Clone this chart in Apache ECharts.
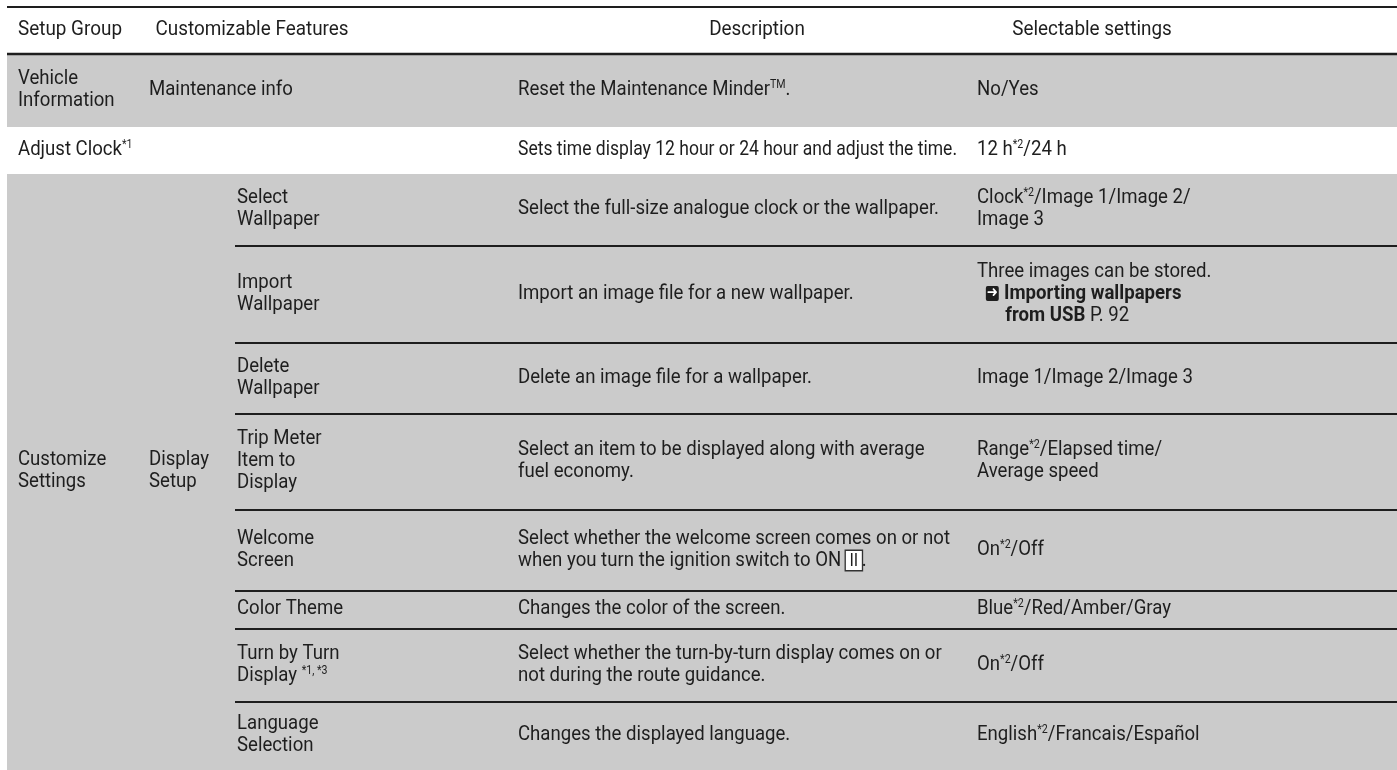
<!DOCTYPE html>
<html><head><meta charset="utf-8">
<script src="https://cdn.jsdelivr.net/npm/echarts@6/dist/echarts.min.js"></script>
<style>html,body{margin:0;padding:0;background:#fff}#c{width:1397px;height:770px}</style>
</head><body><div id="c"></div>
<script>
// ---------- content ----------
const headers = ['Setup Group', 'Customizable Features', 'Description', 'Selectable settings'];
const setupGroups = ['Vehicle\nInformation', 'Adjust Clock{sup|*1}', 'Customize\nSettings'];
const features = ['Maintenance info', '', 'Display\nSetup'];
const displayItems = [
  'Select\nWallpaper', 'Import\nWallpaper', 'Delete\nWallpaper', 'Trip Meter\nItem to\nDisplay',
  'Welcome\nScreen', 'Color Theme', 'Turn by Turn\nDisplay {sup|*1, *3}', 'Language\nSelection'
];
const descriptions = [
  'Reset the Maintenance Minder{sup|TM}.',
  'Sets time display 12 hour or 24 hour and adjust the time.',
  'Select the full-size analogue clock or the wallpaper.',
  'Import an image file for a new wallpaper.',
  'Delete an image file for a wallpaper.',
  'Select an item to be displayed along with average\nfuel economy.',
  'Select whether the welcome screen comes on or not\nwhen you turn the ignition switch to ON {box|II}.',
  'Changes the color of the screen.',
  'Select whether the turn-by-turn display comes on or\nnot during the route guidance.',
  'Changes the displayed language.'
];
const settings = [
  'No/Yes',
  '12 h{sup|*2}/24 h',
  'Clock{sup|*2}/Image 1/Image 2/\nImage 3',
  'Three images can be stored.\n{ind1|\u00a0}{arr|\u279C}{gap|\u00a0}{b|Importing wallpapers}\n{ind2|\u00a0}{b|from USB} P. 92',
  'Image 1/Image 2/Image 3',
  'Range{sup|*2}/Elapsed time/\nAverage speed',
  'On{sup|*2}/Off',
  'Blue{sup|*2}/Red/Amber/Gray',
  'On{sup|*2}/Off',
  'English{sup|*2}/Francais/Espa\u00f1ol'
];

// ---------- layout ----------
const W = 1397, H = 770;
const colX = { tableLeft: 7, group: 18, feature: 149, sub: 235, subText: 237, desc: 518, setting: 977, tableRight: 1397 };
const headerCenters = [70, 252, 757, 1092];
const ruleTop = 7, ruleHeader = 54;
const mainRowEdges = [55, 127, 174, 770];
const subRowEdges = [174, 246, 343, 414, 510, 591, 629, 702, 770];
const GRAY = '#cbcbcb', INK = '#1e1e1e';
const BODY_FONT = 'Roboto', HEAD_FONT = 'Roboto';
const BODY_SIZE = 21, HEAD_SIZE = 20, LINE_H = 22, BODY_W = 'normal';

const ctx = document.createElement('canvas').getContext('2d');
function measure(text, size, family, weight) {
  ctx.font = (weight || 'normal') + ' ' + size + 'px ' + family;
  return Math.max.apply(null, text.split('\n').map(l => ctx.measureText(l.replace(/\{\w+\|([^}]*)\}/g, '$1')).width));
}
// condensed look: calibrate against one reference line width
const bodyScale = Math.min(1, 432 / measure('Select whether the welcome screen comes on or not', BODY_SIZE, BODY_FONT, BODY_W));
const headScale = Math.min(1.05, Math.max(0.85, 104 / measure('Setup Group', HEAD_SIZE, HEAD_FONT)));

const cells = [];
function rect(x0, x1, y0, y1, fill) { cells.push({ kind: 'rect', x0, x1, y0, y1, fill }); }
function rule(x0, x1, y, w) { cells.push({ kind: 'rule', x0, x1, y, w }); }
function text(t, x, y0, y1, opts) {
  opts = opts || {};
  let scale = opts.head ? headScale : bodyScale;
  if (opts.maxW) {
    const wd = measure(t, BODY_SIZE, BODY_FONT, BODY_W) * scale;
    if (wd > opts.maxW) scale *= opts.maxW / wd;
  }
  cells.push({ kind: 'text', t, x, y0, y1, scale, head: !!opts.head, align: opts.align || 'left' });
}

// backgrounds
rect(colX.tableLeft, colX.tableRight, mainRowEdges[0], mainRowEdges[1], GRAY);
rect(colX.tableLeft, colX.tableRight, mainRowEdges[2], mainRowEdges[3], GRAY);
// rules
rule(colX.tableLeft, colX.tableRight, ruleTop, 2);
rule(colX.tableLeft, colX.tableRight, ruleHeader, 2.5);
for (let i = 1; i < subRowEdges.length - 1; i++) rule(colX.sub, colX.tableRight, subRowEdges[i], 2);

// header
headers.forEach((h, i) => text(h, headerCenters[i], ruleTop, ruleHeader, { head: true, align: 'center' }));
// main rows
const descMax = colX.setting - colX.desc - 20;
for (let r = 0; r < 3; r++) {
  const y0 = mainRowEdges[r], y1 = mainRowEdges[r + 1];
  text(setupGroups[r], colX.group, y0, y1);
  if (features[r]) text(features[r], colX.feature, y0, y1);
}
text(descriptions[0], colX.desc, mainRowEdges[0], mainRowEdges[1], { maxW: descMax });
text(settings[0], colX.setting, mainRowEdges[0], mainRowEdges[1]);
text(descriptions[1], colX.desc, mainRowEdges[1], mainRowEdges[2], { maxW: descMax });
text(settings[1], colX.setting, mainRowEdges[1], mainRowEdges[2]);
displayItems.forEach((d, i) => {
  const y0 = subRowEdges[i], y1 = subRowEdges[i + 1];
  text(d, colX.subText, y0, y1);
  text(descriptions[i + 2], colX.desc, y0, y1, { maxW: descMax });
  text(settings[i + 2], colX.setting, y0, y1);
});

const rich = {
  sup: { fontSize: 12, lineHeight: 12, verticalAlign: 'top', fontFamily: BODY_FONT, fill: INK },
  box: { fontSize: 18, lineHeight: 22, fontFamily: 'Liberation Sans', fill: INK, backgroundColor: '#fff',
         borderColor: '#333', borderWidth: 1.5, padding: [1, 4, 0, 4] },
  arr: { fontSize: 15, lineHeight: 18, fontFamily: 'DejaVu Sans', fontWeight: 'bold', fill: '#fff', backgroundColor: '#1e1e1e',
         padding: [0, 1, 0, 1], borderRadius: 2 },
  gap: { width: 6, fontSize: 12 },
  b: { fontWeight: 'bold', fontFamily: BODY_FONT, fontSize: BODY_SIZE, fill: INK },
  ind1: { width: 10, fontSize: 12 },
  ind2: { width: 32, fontSize: 12 }
};

const chart = echarts.init(document.getElementById('c'), null, { renderer: 'canvas' });
chart.setOption({
  animation: false,
  backgroundColor: '#fff',
  grid: { left: 0, right: 0, top: 0, bottom: 0 },
  xAxis: { type: 'value', min: 0, max: W, show: false },
  yAxis: { type: 'value', min: 0, max: H, inverse: true, show: false },
  series: [{
    type: 'custom',
    silent: true,
    clip: false,
    data: cells.map((c, i) => [i]),
    encode: { x: [], y: [] },
    renderItem: function (params, api) {
      const c = cells[api.value(0)];
      if (c.kind === 'rect') {
        const p0 = api.coord([c.x0, c.y0]), p1 = api.coord([c.x1, c.y1]);
        return { type: 'rect', shape: { x: p0[0], y: p0[1], width: p1[0] - p0[0], height: p1[1] - p0[1] }, style: { fill: c.fill } };
      }
      if (c.kind === 'rule') {
        const p0 = api.coord([c.x0, c.y]), p1 = api.coord([c.x1, c.y]);
        return { type: 'line', shape: { x1: p0[0], y1: p0[1], x2: p1[0], y2: p1[1] }, style: { stroke: INK, lineWidth: c.w } };
      }
      const p = api.coord([c.x, (c.y0 + c.y1) / 2]);
      return {
        type: 'text', x: p[0], y: p[1] - 1, scaleX: c.scale,
        style: {
          text: c.t, fill: INK, align: c.align, verticalAlign: 'middle',
          fontFamily: c.head ? HEAD_FONT : BODY_FONT,
          fontWeight: c.head ? 'normal' : BODY_W,
          fontSize: c.head ? HEAD_SIZE : BODY_SIZE,
          lineHeight: LINE_H,
          rich: rich
        }
      };
    }
  }]
});
</script></body></html>
